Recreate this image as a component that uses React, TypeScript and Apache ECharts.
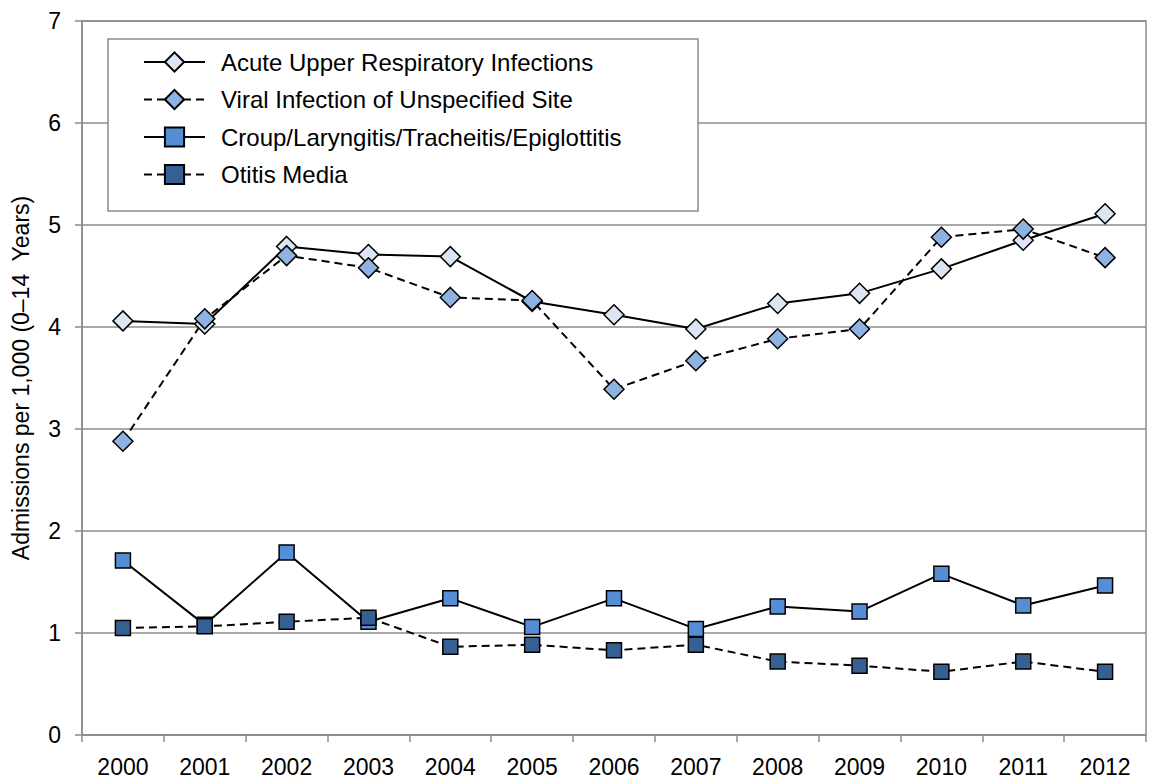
import React, { useEffect, useRef } from "react";
import * as echarts from "echarts";

const years = ["2000", "2001", "2002", "2003", "2004", "2005", "2006", "2007", "2008", "2009", "2010", "2011", "2012"];
const acuteUpper = [4.06, 4.03, 4.79, 4.71, 4.69, 4.25, 4.12, 3.98, 4.23, 4.33, 4.57, 4.85, 5.11];
const viralInfection = [2.88, 4.08, 4.70, 4.58, 4.29, 4.26, 3.39, 3.67, 3.885, 3.98, 4.88, 4.96, 4.68];
const croup = [1.71, 1.08, 1.79, 1.11, 1.34, 1.06, 1.34, 1.04, 1.26, 1.21, 1.58, 1.27, 1.465];
const otitisMedia = [1.05, 1.065, 1.11, 1.15, 0.865, 0.885, 0.83, 0.885, 0.72, 0.68, 0.62, 0.72, 0.62];
const seriesNames = [
  "Acute Upper Respiratory Infections",
  "Viral Infection of Unspecified Site",
  "Croup/Laryngitis/Tracheitis/Epiglottitis",
  "Otitis Media",
];
const yTicks = [0, 1, 2, 3, 4, 5, 6, 7];

const FONT = "Liberation Sans";
const GRID_COLOR = "#8c8c8c";

export default function App() {
  const ref = useRef<HTMLDivElement>(null);
  useEffect(() => {
    if (!ref.current) return;
    const chart = echarts.init(ref.current, null, { renderer: "svg" });
    const mk = (name: string, data: number[], symbol: string, size: number, fill: string, dashed: boolean) => ({
      name,
      type: "line",
      data,
      symbol,
      symbolSize: size,
      showSymbol: true,
      lineStyle: { color: "#000", width: 2, type: dashed ? [8, 5] : "solid" },
      itemStyle: { color: fill, borderColor: "#000", borderWidth: 1.5 },
      emphasis: { disabled: true },
    });
    chart.setOption({
      animation: false,
      backgroundColor: "#fff",
      textStyle: { fontFamily: FONT },
      grid: {
        left: 82,
        right: 3,
        top: 21,
        bottom: 45,
        show: true,
        borderColor: GRID_COLOR,
        borderWidth: 1.5,
        backgroundColor: "transparent",
      },
      legend: {
        orient: "vertical",
        left: 143,
        top: 50,
        padding: 0,
        z: 10,
        itemWidth: 61,
        itemHeight: 24,
        itemGap: 13.5,
        selectedMode: false,
        data: seriesNames,
        textStyle: { fontFamily: FONT, fontSize: 24, color: "#000", lineHeight: 24, padding: [0, 0, 0, 11] },
      },
      graphic: [
        {
          type: "rect",
          shape: { x: 108, y: 39, width: 590, height: 172 },
          style: { fill: "#fff", stroke: GRID_COLOR, lineWidth: 1.5 },
          z: 3,
          silent: true,
        },
      ],
      xAxis: {
        type: "category",
        data: years,
        boundaryGap: true,
        axisLine: { show: true, lineStyle: { color: GRID_COLOR, width: 1.5 } },
        axisTick: { show: true, length: 7, alignWithLabel: false, lineStyle: { color: GRID_COLOR, width: 1.5 } },
        axisLabel: { color: "#000", fontSize: 23, fontFamily: FONT, margin: 20, interval: 0 },
        splitLine: { show: false },
      },
      yAxis: {
        type: "value",
        min: 0,
        max: 7,
        interval: 1,
        name: "Admissions per 1,000 (0\u201314  Years)",
        nameLocation: "middle",
        nameGap: 50,
        nameTextStyle: { color: "#000", fontSize: 23, fontFamily: FONT },
        axisLine: { show: true, lineStyle: { color: GRID_COLOR, width: 1.5 } },
        axisTick: { show: true, length: 7, lineStyle: { color: GRID_COLOR, width: 1.5 } },
        axisLabel: {
          color: "#000",
          fontSize: 23,
          fontFamily: FONT,
          margin: 21,
          formatter: (v: number) => (yTicks.includes(v) ? String(v) : ""),
        },
        splitLine: { show: true, lineStyle: { color: GRID_COLOR, width: 1.5 } },
      },
      series: [
        mk(seriesNames[0], acuteUpper, "diamond", 20, "#dce6f2", false),
        mk(seriesNames[1], viralInfection, "diamond", 20, "#8db3e2", true),
        mk(seriesNames[2], croup, "rect", 15, "#558ed5", false),
        mk(seriesNames[3], otitisMedia, "rect", 15, "#376092", true),
      ],
    });
    return () => chart.dispose();
  }, []);
  return (
    <div
      ref={ref}
      style={{ position: "fixed", left: 0, top: 0, width: 1149, height: 780, background: "#fff" }}
    />
  );
}
